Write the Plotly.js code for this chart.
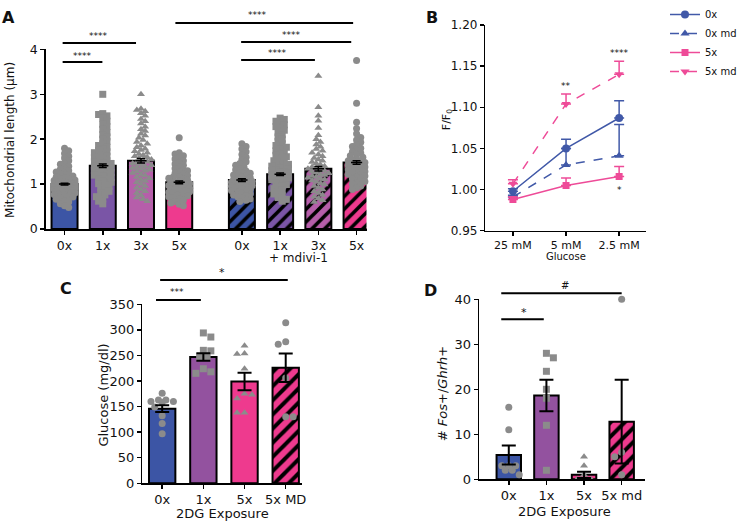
<!DOCTYPE html>
<html><head><meta charset="utf-8">
<script src="https://cdn.plot.ly/plotly-3.0.1.min.js"></script>
<style>html,body{margin:0;padding:0;background:#fff}#chart{width:742px;height:521px}</style>
</head><body><div id="chart"></div>
<script>
// ================= DATA =================
// Panel A: mitochondrial length (um)
const aLabels = ['0x','1x','3x','5x','0x','1x','3x','5x'];
const aMean = [1.00, 1.41, 1.52, 1.04, 1.09, 1.22, 1.34, 1.48];
const aSem  = [0.02, 0.04, 0.05, 0.03, 0.03, 0.03, 0.05, 0.04];
const aCtrl0x = [1.80,1.74,1.68,1.62,1.58,1.52,1.47,1.44,1.40,1.36,1.33,1.30,1.27,1.25,1.22,1.20,1.18,1.16,1.14,1.12,1.10,1.09,1.08,1.06,1.05,1.04,1.03,1.02,1.01,1.00,1.00,0.99,0.98,0.97,0.96,0.95,0.94,0.93,0.92,0.91,0.90,0.90,0.89,0.88,0.87,0.86,0.85,0.84,0.83,0.82,0.81,0.80,0.78,0.77,0.75,0.73,0.71,0.69,0.66,0.63,0.60,0.56,0.52,0.48];
const aCtrl1x = [3.00,2.57,2.55,2.52,2.47,2.40,2.33,2.28,2.22,2.15,2.10,2.05,2.00,1.95,1.90,1.86,1.82,1.78,1.75,1.72,1.70,1.68,1.65,1.62,1.60,1.58,1.55,1.52,1.50,1.48,1.46,1.44,1.42,1.40,1.38,1.36,1.34,1.32,1.30,1.28,1.26,1.24,1.22,1.20,1.18,1.15,1.12,1.10,1.07,1.04,1.01,0.98,0.95,0.92,0.88,0.84,0.80,0.76,0.72,0.67,0.62,0.56];
const aCtrl3x = [3.00,2.68,2.65,2.62,2.58,2.52,2.45,2.40,2.35,2.28,2.22,2.18,2.12,2.08,2.03,1.98,1.94,1.90,1.86,1.82,1.79,1.76,1.73,1.70,1.67,1.64,1.62,1.60,1.57,1.55,1.53,1.50,1.48,1.46,1.44,1.42,1.40,1.38,1.36,1.34,1.32,1.30,1.28,1.25,1.22,1.19,1.16,1.13,1.10,1.07,1.04,1.00,0.96,0.92,0.88,0.84,0.80,0.75,0.70,0.66,0.62];
const aCtrl5x = [2.03,1.70,1.67,1.63,1.60,1.56,1.52,1.48,1.45,1.42,1.38,1.35,1.32,1.30,1.27,1.24,1.22,1.19,1.17,1.15,1.13,1.11,1.09,1.07,1.05,1.04,1.03,1.01,1.00,0.98,0.97,0.95,0.94,0.92,0.91,0.89,0.88,0.86,0.85,0.83,0.82,0.80,0.78,0.76,0.74,0.72,0.70,0.67,0.64,0.61,0.58,0.55,0.52];
const aMd0x = [1.90,1.84,1.78,1.72,1.66,1.60,1.55,1.50,1.46,1.42,1.38,1.35,1.32,1.29,1.26,1.24,1.22,1.20,1.18,1.16,1.14,1.12,1.10,1.09,1.08,1.06,1.05,1.04,1.02,1.01,1.00,0.98,0.97,0.95,0.94,0.92,0.90,0.88,0.86,0.84,0.82,0.80,0.78,0.76,0.74,0.72,0.70,0.67,0.64,0.61];
const aMd1x = [2.47,2.44,2.40,2.36,2.32,2.28,2.24,2.20,2.15,2.10,2.05,2.00,1.95,1.90,1.86,1.82,1.78,1.74,1.70,1.67,1.64,1.61,1.58,1.55,1.52,1.49,1.46,1.44,1.42,1.40,1.38,1.36,1.34,1.32,1.30,1.28,1.26,1.24,1.22,1.20,1.18,1.16,1.14,1.12,1.10,1.08,1.05,1.02,0.99,0.96,0.93,0.90,0.86,0.82,0.78,0.74,0.70,0.66,0.62];
const aMd3x = [3.41,2.71,2.52,2.41,2.25,2.09,2.00,1.94,1.88,1.83,1.78,1.74,1.70,1.66,1.62,1.58,1.55,1.52,1.49,1.46,1.43,1.40,1.38,1.36,1.34,1.32,1.30,1.28,1.26,1.24,1.22,1.20,1.18,1.16,1.14,1.12,1.10,1.08,1.05,1.02,0.99,0.96,0.92,0.88,0.84,0.80,0.76,0.72,0.68,0.64,0.60];
const aMd5x = [3.75,2.80,2.38,2.24,2.12,2.04,1.98,1.93,1.88,1.84,1.80,1.76,1.72,1.69,1.66,1.63,1.60,1.58,1.56,1.54,1.52,1.50,1.48,1.46,1.44,1.42,1.40,1.38,1.36,1.34,1.32,1.30,1.28,1.26,1.24,1.22,1.20,1.18,1.15,1.12,1.09,1.06,1.03,1.00,0.96,0.92,0.88];

// Panel B: F/F0 (error bars drawn upward only)
const bLabels = ['25 mM','5 mM','2.5 mM'];
const b0x     = [0.998, 1.050, 1.087];
const b0xErr  = [0.003, 0.011, 0.021];
const b0xMd   = [0.991, 1.030, 1.041];
const b0xMdErr= [0.002, 0.020, 0.038];
const b5x     = [0.988, 1.005, 1.016];
const b5xErr  = [0.003, 0.009, 0.012];
const b5xMd   = [1.007, 1.104, 1.140];
const b5xMdErr= [0.005, 0.012, 0.016];

// Panel C: glucose (mg/dl)
const cLabels = ['0x','1x','5x','5x MD'];
const cMean = [146, 247, 199, 226];
const cSem  = [6.5, 7.5, 17, 28];
const c0x  = [176,163,160,158,160,163,149,132,117,97];
const c1x  = [294,286,260,259,247,246,224,218,215];
const c5x  = [269,254,253,224,175,166,173,138,138];
const c5xMd = [314,272,277,206,130,130];

// Panel D: # Fos+/Ghrh+
const dLabels = ['0x','1x','5x','5x md'];
const dMean = [5.4, 18.6, 1.0, 12.8];
const dSem  = [2.1, 3.5, 0.7, 9.3];
const d0x  = [16,11,3,3,3,2,2,1];
const d1x  = [28,27,24,20,18,12,2];
const d5x  = [5,3,1,0,0,0,0,0];
const d5xMd = [40,6,5,1];

// ================= STYLE / HELPERS =================
const F = 'DejaVu Sans, Arial, sans-serif';
const W = 742, H = 521;
const px = x => x / W, py = y => 1 - y / H;
const BLUE = '#3C55A5', PURPLE = '#7A55A6', MAUVE = '#B65EAA', PINK = '#EE3A8E', PURPLE_C = '#93529F';
const BBLUE = '#4159A8', BPINK = '#EE4B98';
const GRAY = '#8B8B8B';

function swarm(vals, center, pxX, pxY, minDist, maxHalf) {
  const order = vals.map((v, i) => i).sort((a, b) => vals[b] - vals[a]);
  const placed = [];
  const xs = new Array(vals.length);
  const step = minDist / 2;
  order.forEach((i, n) => {
    const y = vals[i] * pxY;
    let bestX = 0, bestD = -1;
    search:
    for (let k = 0; k * step <= maxHalf; k++) {
      const cands = k === 0 ? [0] : (n % 2 ? [k * step, -k * step] : [-k * step, k * step]);
      for (const x of cands) {
        let d = Infinity;
        for (const p of placed) { const dd = Math.hypot(p[0] - x, p[1] - y); if (dd < d) d = dd; }
        if (d >= minDist) { bestX = x; bestD = d; break search; }
        if (d > bestD) { bestD = d; bestX = x; }
      }
    }
    placed.push([bestX, y]);
    xs[i] = center + bestX / pxX;
  });
  return xs;
}
// one bar trace per bar so that each gets a scalar colour (needed for black hatching)
function bars(xs, ys, colors, hatched, width, xa, ya, psize) {
  return xs.map((x, i) => ({type:'bar', x:[x], y:[ys[i]], width:width, xaxis:xa, yaxis:ya, showlegend:false, hoverinfo:'skip',
    marker:{color:colors[i], line:{color:'#000', width:2},
      pattern: hatched[i] ? {shape:'/', fillmode:'replace', bgcolor:colors[i], fgcolor:'#000', fgopacity:1, size:psize, solidity:0.4} : {shape:''}}}));
}

const traces = [];
// ---------- Panel A ----------
const aPos = aLabels.map((_, i) => i + (i >= 4 ? 0.64 : 0));
const aColors = [BLUE, PURPLE, MAUVE, PINK, BLUE, PURPLE, MAUVE, PINK];
traces.push(...bars(aPos, aMean, aColors, aLabels.map((_, i) => i >= 4), 0.68, 'x', 'y', 9));
const aPts = [aCtrl0x, aCtrl1x, aCtrl3x, aCtrl5x, aMd0x, aMd1x, aMd3x, aMd5x];
const aSym = ['circle','square','triangle-up','circle','circle','square','triangle-up','circle'];
aPts.forEach((vals, i) => {
  traces.push({type:'scatter', mode:'markers', xaxis:'x', yaxis:'y', showlegend:false, hoverinfo:'skip', cliponaxis:false,
    x: swarm(vals, aPos[i], 38.5, 44.9, 4.2, 11), y: vals,
    marker:{symbol:aSym[i], size:7, color:GRAY}});
});
traces.push({type:'scatter', mode:'markers', xaxis:'x', yaxis:'y', showlegend:false, hoverinfo:'skip',
  x:aPos, y:aMean, marker:{symbol:'line-ew-open', size:8, line:{width:1.5, color:'#000'}, color:'#000'},
  error_y:{type:'data', array:aSem, color:'#000', thickness:1.5, width:4}});

// ---------- Panel B ----------
const bX = bLabels.map((_, i) => i);
const zeros = bX.map(() => 0);
function bTrace(name, y, err, color, dash, symbol, size) {
  return {type:'scatter', mode:'lines+markers', name:name, x:bX, y:y, xaxis:'x2', yaxis:'y2', hoverinfo:'skip',
    line:{color:color, width:1.5, dash:dash}, marker:{symbol:symbol, size:size, color:color},
    error_y:{type:'data', array:err, arrayminus:zeros, symmetric:false, color:color, thickness:1.5, width:5}};
}
traces.push(bTrace('0x', b0x, b0xErr, BBLUE, 'solid', 'circle', 8));
traces.push(bTrace('0x md', b0xMd, b0xMdErr, BBLUE, 'dash', 'triangle-up', 8));
traces.push(bTrace('5x', b5x, b5xErr, BPINK, 'solid', 'square', 7));
traces.push(bTrace('5x md', b5xMd, b5xMdErr, BPINK, 'dash', 'triangle-down', 8));

// ---------- Panel C ----------
const cPos = cLabels.map((_, i) => i);
const cColors = [BLUE, PURPLE_C, PINK, PINK];
traces.push(...bars(cPos, cMean, cColors, [false, false, false, true], 0.64, 'x3', 'y3', 10));
const cPts = [c0x, c1x, c5x, c5xMd];
const cSym = ['circle','square','triangle-up','circle'];
cPts.forEach((vals, i) => {
  traces.push({type:'scatter', mode:'markers', xaxis:'x3', yaxis:'y3', showlegend:false, hoverinfo:'skip', cliponaxis:false,
    x: swarm(vals, cPos[i], 41.3, 0.511, 7.5, 13), y: vals,
    marker:{symbol:cSym[i], size:7, color:GRAY}});
});
traces.push({type:'scatter', mode:'markers', xaxis:'x3', yaxis:'y3', showlegend:false, hoverinfo:'skip',
  x:cPos, y:cMean, marker:{size:1, color:'rgba(0,0,0,0)'},
  error_y:{type:'data', array:cSem, color:'#000', thickness:2, width:7}});

// ---------- Panel D ----------
const dPos = dLabels.map((_, i) => i);
traces.push(...bars(dPos, dMean, cColors, [false, false, false, true], 0.65, 'x4', 'y4', 10));
const dPts = [d0x, d1x, d5x, d5xMd];
dPts.forEach((vals, i) => {
  traces.push({type:'scatter', mode:'markers', xaxis:'x4', yaxis:'y4', showlegend:false, hoverinfo:'skip', cliponaxis:false,
    x: swarm(vals, dPos[i], 37.8, 4.5, 7, 13), y: vals,
    marker:{symbol:cSym[i], size:7, color:GRAY}});
});
traces.push({type:'scatter', mode:'markers', xaxis:'x4', yaxis:'y4', showlegend:false, hoverinfo:'skip',
  x:dPos, y:dMean, marker:{size:1, color:'rgba(0,0,0,0)'},
  error_y:{type:'data', array:dSem, color:'#000', thickness:2, width:7}});

// ================= LAYOUT =================
function axis(extra) {
  return Object.assign({showline:true, linecolor:'#000', linewidth:1.5, ticks:'outside', ticklen:4, tickwidth:1.5,
    tickcolor:'#000', showgrid:false, zeroline:false, fixedrange:true,
    tickfont:{family:F, size:12, color:'#111'}}, extra);
}
const layout = {
  width:W, height:H, margin:{l:0, r:0, t:0, b:0}, paper_bgcolor:'#fff', plot_bgcolor:'rgba(0,0,0,0)',
  font:{family:F, color:'#111'}, barmode:'overlay', bargap:0,
  xaxis: axis({domain:[px(46), px(368)], range:[-0.49, 7.9], tickvals:aPos, ticktext:aLabels, anchor:'y', tickfont:{family:F, size:12.5, color:'#111'}}),
  yaxis: axis({domain:[py(229), py(49.4)], range:[0, 4], tickvals:[0,1,2,3,4], anchor:'x', tickfont:{family:F, size:12.5, color:'#111'}}),
  xaxis2: axis({domain:[px(487.3), px(648.3)], range:[-0.52, 2.5], tickvals:bX, ticktext:bLabels, anchor:'y2', tickfont:{family:F, size:11, color:'#111'}}),
  yaxis2: axis({domain:[py(230.7), py(25)], range:[0.95, 1.20], tickvals:[0.95,1.00,1.05,1.10,1.15,1.20], tickformat:'.2f', anchor:'x2'}),
  xaxis3: axis({domain:[px(143), px(303)], range:[-0.48, 3.39], tickvals:cPos, ticktext:cLabels, anchor:'y3', tickfont:{family:F, size:13, color:'#111'}}),
  yaxis3: axis({domain:[py(483.3), py(304.3)], range:[0, 350], tickvals:[0,50,100,150,200,250,300,350], anchor:'x3', tickfont:{family:F, size:13, color:'#111'}}),
  xaxis4: axis({domain:[px(481), px(648)], range:[-0.79, 3.63], tickvals:dPos, ticktext:dLabels, anchor:'y4', tickfont:{family:F, size:13, color:'#111'}}),
  yaxis4: axis({domain:[py(479.3), py(299.3)], range:[0, 40], tickvals:[0,10,20,30,40], anchor:'x4', tickfont:{family:F, size:13, color:'#111'}}),
  legend:{x:px(668), y:1.0, xanchor:'left', yanchor:'top', font:{family:F, size:10, color:'#111'}, bgcolor:'rgba(0,0,0,0)', tracegroupgap:0},
  showlegend:true,
  shapes:[], annotations:[]
};

function sig(xref, x0, x1, ypx, text, tx, typx, size) {
  layout.shapes.push({type:'line', xref:xref, yref:'paper', x0:x0, x1:x1, y0:py(ypx), y1:py(ypx), line:{color:'#000', width:2}});
  layout.annotations.push({xref:xref, yref:'paper', x:tx, y:py(typx), text:text, showarrow:false, font:{family:F, size:size||9, color:'#111'}, xanchor:'center', yanchor:'middle'});
}
// Panel A significance
sig('x', -0.05, 0.99, 62, '****', 0.47, 56);
sig('x', -0.05, 1.87, 43, '****', 0.88, 36);
sig('x', 2.9, 7.55, 23, '****', 5.06, 15);
sig('x', 4.62, 7.5, 42, '****', 5.95, 35);
sig('x', 4.62, 6.55, 60, '****', 5.56, 53);
// Panel C significance
sig('x3', -0.15, 0.94, 300, '***', 0.37, 292);
sig('x3', -0.05, 3.05, 280, '*', 1.45, 272, 11);
// Panel D significance
sig('x4', -0.2, 0.93, 319.3, '*', 0.4, 312, 11);
sig('x4', -0.2, 3.0, 293.3, '#', 1.5, 285, 10);

function txt(x, y, text, size, extra) {
  layout.annotations.push(Object.assign({xref:'paper', yref:'paper', x:px(x), y:py(y), text:text, showarrow:false,
    font:{family:F, size:size, color:'#111'}, xanchor:'center', yanchor:'middle'}, extra || {}));
}
// panel letters
txt(9, 18, '<b>A</b>', 16);
txt(434, 18, '<b>B</b>', 16);
txt(66, 288, '<b>C</b>', 16);
txt(432, 290, '<b>D</b>', 16);
// axis titles
txt(10, 140, 'Mitochondrial length (\u03bcm)', 12, {textangle:-90});
txt(300, 258, '+ mdivi-1', 12);
txt(449, 120, 'F/F<sub>0</sub>', 11, {textangle:-90});
txt(568, 257, 'Glucose', 10);
txt(103, 395, 'Glucose (mg/dl)', 13, {textangle:-90});
txt(223, 513, '2DG Exposure', 13);
txt(444, 394, '# <i>Fos</i>+/<i>Ghrh</i>+', 13, {textangle:-90});
txt(567, 511, '2DG Exposure', 13);
// Panel B significance stars (data coords)
layout.annotations.push({xref:'x2', yref:'y2', x:1, y:1.126, text:'**', showarrow:false, font:{family:F, size:9, color:'#111'}});
layout.annotations.push({xref:'x2', yref:'y2', x:2, y:1.166, text:'****', showarrow:false, font:{family:F, size:9, color:'#111'}});
layout.annotations.push({xref:'x2', yref:'y2', x:2, y:1.0, text:'*', showarrow:false, font:{family:F, size:9, color:'#111'}});

Plotly.newPlot('chart', traces, layout, {displayModeBar:false, staticPlot:true});
</script>
</body></html>
